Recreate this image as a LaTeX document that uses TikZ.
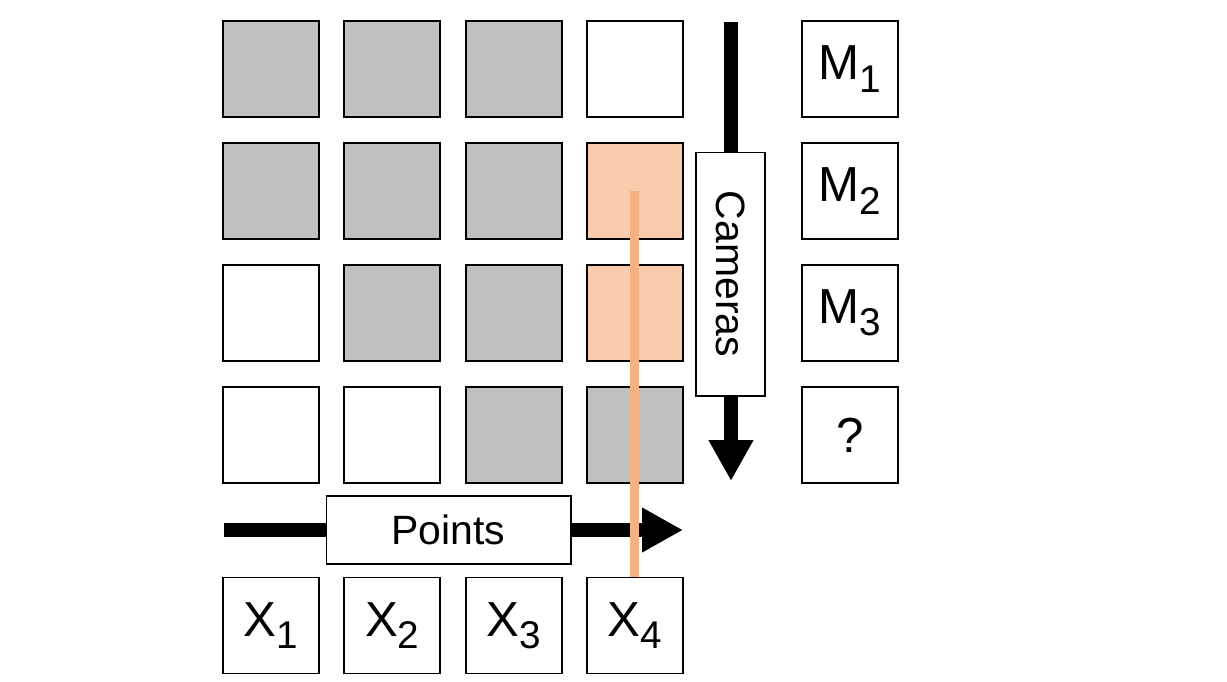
\documentclass[tikz,border=0pt]{standalone}
\usepackage{fontspec}
\setmainfont{Liberation Sans}
\usepackage{tikz}
\usetikzlibrary{arrows.meta}
\definecolor{cellgray}{HTML}{C0C0C0}
\definecolor{celltan}{HTML}{F8CBAD}
\definecolor{tracetan}{HTML}{F4B183}
\newcommand{\lbl}[2]{#1\raisebox{-0.25em}{\fontsize{22}{22}\selectfont #2}}

\begin{document}
\begin{tikzpicture}[x=0.02cm,y=-0.02cm,>={Triangle[length=0.82cm,width=0.84cm]},
  cell/.style={draw,line width=1.1pt,minimum size=1.92cm,inner sep=0pt},
  tag/.style={cell,font=\fontsize{28}{33}\selectfont},
  axis/.style={->,line width=0.28cm},
  axlabel/.style={draw,fill=white,line width=0.6pt,inner sep=0pt,font=\fontsize{23.3}{28}\selectfont}]
  \useasboundingbox (0,0) rectangle (1227,681);

  \foreach \r/\row in {1/{cellgray,cellgray,cellgray,white},2/{cellgray,cellgray,cellgray,celltan},
                       3/{white,cellgray,cellgray,celltan},4/{white,white,cellgray,cellgray}}{
    \foreach \f [count=\c] in \row
      \node[cell,fill=\f] (c\r\c) at ({271+121.3*(\c-1)},{69+122*(\r-1)}) {};
  }
  \foreach \i in {1,...,4}
    \node[tag] (x\i) at ({271+121.3*(\i-1)},625.5) {\lbl{X}{\i}};
  \foreach \i/\t in {1/\lbl{M}{1},2/\lbl{M}{2},3/\lbl{M}{3},4/?}
    \node[tag] (m\i) at (850,{69+122*(\i-1)}) {\t};

  \coordinate (cam0) at (731,22);
  \coordinate (cam1) at (731,481);
  \draw[axis] (cam0) -- (cam1);
  \node[axlabel,rotate=-90,minimum width=4.88cm,minimum height=1.38cm] (cams) at (730.5,274) {Cameras};

  \coordinate (pts0) at (224,530);
  \coordinate (pts1) at (683,530);
  \draw[axis] (pts0) -- (pts1);
  \node[axlabel,minimum width=4.9cm,minimum height=1.36cm] (pts) at (448.5,530) {Points};

  \draw[tracetan,line width=0.18cm] (c24.center) -- (x4.north);
\end{tikzpicture}
\end{document}
